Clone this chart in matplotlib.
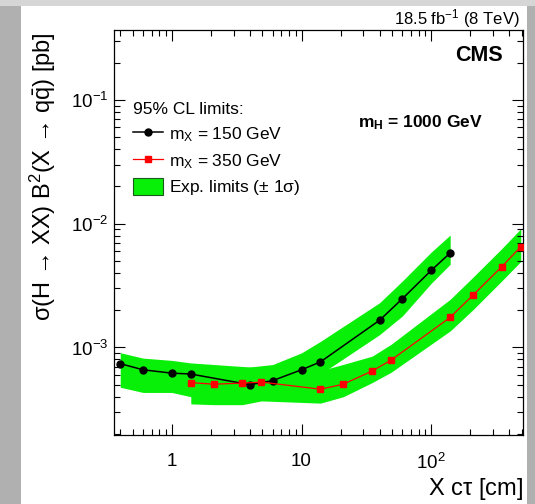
import matplotlib
matplotlib.use('Agg')
import matplotlib.pyplot as plt
from matplotlib.patches import Rectangle, Patch
from matplotlib.lines import Line2D

plt.rcParams['font.family'] = ['Liberation Sans', 'DejaVu Sans']
plt.rcParams['mathtext.fontset'] = 'custom'
plt.rcParams['mathtext.rm'] = 'Liberation Sans'
plt.rcParams['mathtext.it'] = 'Liberation Sans:italic'
plt.rcParams['mathtext.bf'] = 'Liberation Sans:bold'
plt.rcParams['axes.unicode_minus'] = False

# m_X = 150 GeV : observed limit and expected +-1 sigma band
ctau_150 = [0.4, 0.6, 1, 1.4, 4, 6, 10, 14, 40, 60, 100, 140]
lim_150 = [7.4e-4, 6.6e-4, 6.2e-4, 6.1e-4, 5.0e-4, 5.4e-4, 6.6e-4, 7.65e-4,
           1.66e-3, 2.48e-3, 4.2e-3, 5.8e-3]
band_150_lo = [4.77e-4, 4.33e-4, 4.33e-4, 4.0e-4, 3.6e-4, 3.9e-4, 4.8e-4, 6.1e-4,
               1.27e-3, 1.8e-3, 3.3e-3, 4.7e-3]
band_150_hi = [9.07e-4, 8.2e-4, 7.86e-4, 7.5e-4, 6.95e-4, 7.28e-4, 9.05e-4, 1.12e-3,
               2.3e-3, 3.45e-3, 5.9e-3, 8.1e-3]

# m_X = 350 GeV
ctau_350 = [1.4, 2.1, 3.5, 4.9, 14, 21, 35, 49, 140, 210, 350, 490]
lim_350 = [5.2e-4, 5.05e-4, 5.15e-4, 5.25e-4, 4.6e-4, 5.05e-4, 6.45e-4, 7.9e-4,
           1.75e-3, 2.65e-3, 4.5e-3, 6.5e-3]
band_350_lo = [3.5e-4, 3.45e-4, 3.45e-4, 3.7e-4, 3.55e-4, 4.0e-4, 5.2e-4, 6.3e-4,
               1.36e-3, 2.02e-3, 3.45e-3, 4.95e-3]
band_350_hi = [6.9e-4, 6.7e-4, 6.9e-4, 7.0e-4, 6.5e-4, 7.3e-4, 8.5e-4, 1.06e-3,
               2.45e-3, 3.7e-3, 6.3e-3, 9.1e-3]

xticks = [1, 10, 100]
xticklabels = ['1', '10', r'$\mathregular{10^{2}}$']
yticks = [1e-3, 1e-2, 1e-1]
yticklabels = [r'$\mathregular{10^{-3}}$', r'$\mathregular{10^{-2}}$', r'$\mathregular{10^{-1}}$']

green = '#08f008'

fig = plt.figure(figsize=(5.35, 5.04), dpi=100)
fig.patch.set_facecolor('#b0b0b0')
# slide-like frame around the plot
fig.patches.append(Rectangle((0, 1 - 6/504), 1, 6/504, transform=fig.transFigure,
                             facecolor='#d6d6d6', edgecolor='none', zorder=-5))
fig.patches.append(Rectangle((21/535, 0), (527 - 21)/535, 1 - 6/504, transform=fig.transFigure,
                             facecolor='white', edgecolor='none', zorder=-5))

ax = fig.add_axes([114.3/535, 1 - 434.5/504, (523 - 114.3)/535, (434.5 - 30.4)/504])
ax.set_xscale('log')
ax.set_yscale('log')

ax.fill_between(ctau_150, band_150_lo, band_150_hi, color=green, lw=0, zorder=1)
ax.fill_between(ctau_350, band_350_lo, band_350_hi, color=green, lw=0, zorder=1)
ax.plot(ctau_150, lim_150, color='black', lw=1.1, marker='o', ms=5, zorder=3)
ax.plot(ctau_350, lim_350, color='#ff0000', lw=0.9, marker='s', ms=4.8, zorder=3)

ax.set_xlim(0.36, 510)
ax.set_ylim(1.98e-4, 0.365)

ax.set_xticks(xticks)
ax.set_xticklabels(xticklabels)
ax.set_yticks(yticks)
ax.set_yticklabels(yticklabels)
ax.tick_params(which='both', direction='in', top=True, right=True, width=0.8, labelsize=13.5)
ax.tick_params(which='major', length=8)
ax.tick_params(which='minor', length=4)
ax.tick_params(axis='x', pad=13)
ax.tick_params(axis='y', pad=4)
for s in ax.spines.values():
    s.set_linewidth(0.9)

ax.set_xlabel(r'X c$\mathregular{\tau}$ [cm]', fontsize=17, loc='right')
ax.xaxis.set_label_coords(1.0, -0.103)
fig.text(43/535, 1 - 177/504, r'σ(H → XX) B$^{2}$(X → q$\mathregular{\bar{q}}$) [pb]',
         rotation=90, ha='center', va='center', fontsize=17)

fig.text(520/535, 1 - 19/504, r'18.5 fb$^{-1}$ (8 TeV)', ha='right', va='center', fontsize=12)
ax.text(0.951, 0.939, 'CMS', transform=ax.transAxes, ha='right', va='center',
        fontsize=15.5, fontweight='bold')
ax.text(0.902, 0.771, r'm$_{\mathbf{H}}$ = 1000 GeV', transform=ax.transAxes, ha='right',
        va='center', fontsize=12.5, fontweight='bold')

handles = [Line2D([], [], color='black', lw=1.1, marker='o', ms=5),
           Line2D([], [], color='#ff0000', lw=0.9, marker='s', ms=4.8),
           Patch(facecolor=green, edgecolor='#1a5a1a', lw=0.8)]
labels = [r'm$_{\mathregular{X}}$ = 150 GeV', r'm$_{\mathregular{X}}$ = 350 GeV',
          r'Exp. limits ($\mathregular{\pm}$ 1$\mathregular{\sigma}$)']
leg = ax.legend(handles, labels, title='95% CL limits:', loc='upper left',
                bbox_to_anchor=(0.045, 0.822), frameon=False, fontsize=12.5,
                title_fontsize=12.5, alignment='left', borderpad=0, borderaxespad=0,
                handlelength=1.75, handleheight=1.07, handletextpad=0.35, labelspacing=0.45)

fig.savefig('out.png', dpi=100, facecolor=fig.get_facecolor())
